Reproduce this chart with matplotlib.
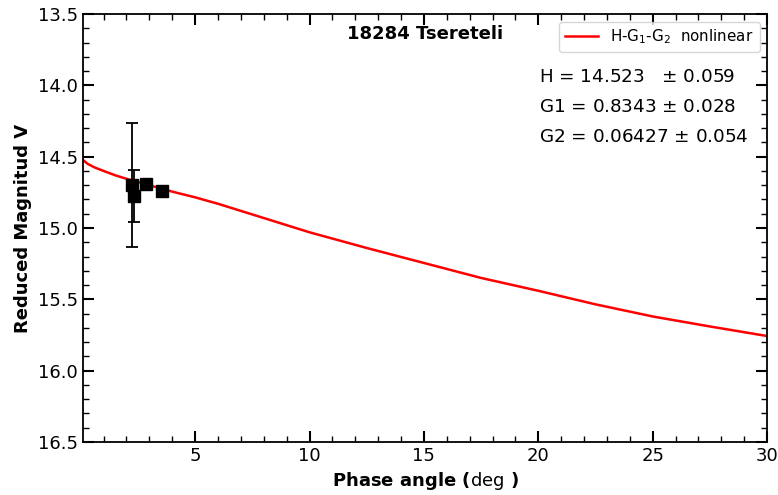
import numpy as np
import matplotlib as mpl
mpl.use('Agg')
import matplotlib.pyplot as plt
from matplotlib.ticker import MultipleLocator

title = '18284 Tsereteli'
fontsize = 13

# observed points
alpha_obs = [2.24, 2.33, 2.84, 3.54]
mag_obs = [14.699, 14.776, 14.689, 14.738]
err_obs = [0.433, 0.18, 0.02, 0.02]

# fitted H-G1-G2 curve
alpha_fit = [0.1, 0.3, 0.6, 1.0, 1.5, 2.0, 3.0, 4.0, 5.0, 6.0, 8.0, 10.0,
             12.5, 15.0, 17.5, 20.0, 22.5, 25.0, 27.5, 30.0]
mag_fit = [14.523, 14.55, 14.575, 14.60, 14.63, 14.655, 14.70, 14.745, 14.785,
           14.83, 14.93, 15.03, 15.14, 15.245, 15.35, 15.44, 15.535, 15.62,
           15.69, 15.757]

params = ['H = 14.523   $\\pm$ 0.059',
          'G1 = 0.8343 $\\pm$ 0.028',
          'G2 = 0.06427 $\\pm$ 0.054']

fig = plt.figure(figsize=(7.78, 4.95), dpi=100)
ax = fig.add_axes([0.1067, 0.107, 0.8793, 0.8647])

ax.plot(alpha_fit, mag_fit, color='red', lw=1.8, label='H-G$_1$-G$_2$  nonlinear')
ax.errorbar(alpha_obs, mag_obs, yerr=err_obs, fmt='s', color='k', ms=8.5,
            ecolor='k', elinewidth=1.3, capsize=4, capthick=1.3)

ax.set_xlim(0.1, 30)
ax.set_ylim(16.5, 13.5)
ax.xaxis.set_major_locator(MultipleLocator(5))
ax.xaxis.set_minor_locator(MultipleLocator(1))
ax.yaxis.set_major_locator(MultipleLocator(0.5))
ax.yaxis.set_minor_locator(MultipleLocator(0.1))
ax.tick_params(which='both', direction='in', top=True, right=True, labelsize=fontsize)
ax.tick_params(which='major', length=8, width=1.5)
ax.tick_params(which='minor', length=4, width=1)
for s in ax.spines.values():
    s.set_linewidth(1.3)

ax.set_xlabel('Phase angle ($\\rm deg$ )', fontsize=fontsize, fontweight='bold')
ax.set_ylabel('Reduced Magnitud V', fontsize=fontsize, fontweight='bold')
ax.text(0.5, 0.953, title, transform=ax.transAxes, ha='center', va='center',
        fontsize=13, fontweight='bold')

for i, p in enumerate(params):
    ax.text(0.667, 0.853 - i * 0.07, p, transform=ax.transAxes, ha='left',
            va='center', fontsize=13.2)

ax.legend(loc='upper right', fontsize=10.9, handlelength=2.2)

fig.savefig('out.png', dpi=100)
